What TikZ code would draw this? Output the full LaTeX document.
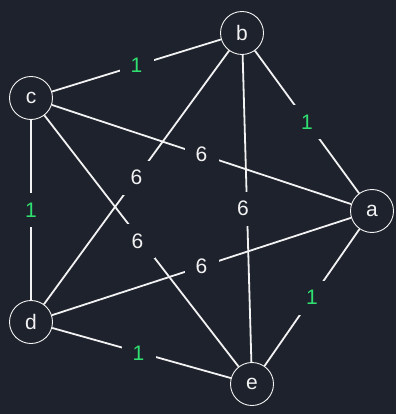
\documentclass[tikz,border=0pt]{standalone}
\usepackage{fontspec}
\setmainfont{Liberation Sans}
\usetikzlibrary{calc}
\definecolor{bg}{HTML}{1E222D}
\definecolor{edgecol}{HTML}{F2F2F2}
\definecolor{light}{HTML}{2FE070}

\begin{document}
\begin{tikzpicture}[
    x=1pt, y=-1pt,
    vertex/.style={circle, draw=edgecol, line width=0.9pt, fill=bg, text=edgecol, minimum size=43pt, inner sep=0pt, font=\fontsize{21}{25}\selectfont},
    link/.style={draw=edgecol, line width=1.8pt},
    wt/.style={fill=bg, inner sep=0pt, minimum size=34pt, font=\fontsize{21}{25}\selectfont},
    cheap/.style={wt, text=light},
    dear/.style={wt, text=edgecol}
]
\fill[bg] (0,0) rectangle (396,414);
\useasboundingbox (0,0) rectangle (396,414);

\node[vertex] (b) at (242,33) {b};
\node[vertex] (c) at (31,98) {c};
\node[vertex] (a) at (372,211) {a};
\node[vertex] (d) at (31,322) {d};
\node[vertex] (e) at (252,384) {e};

% weight 6 edges
\draw[link] (c) -- node[dear] {6} (a);
\draw[link] (c) -- node[dear, xshift=-4pt] {6} (e);
\draw[link] (b) -- node[dear] {6} (d);
\draw[link] (b) -- node[dear, xshift=-4pt] {6} (e);
\draw[link] (a) -- node[dear] {6} (d);

% weight 1 edges
\draw[link] (c) -- node[cheap] {1} (b);
\draw[link] (b) -- node[cheap] {1} (a);
\draw[link] (a) -- node[cheap] {1} (e);
\draw[link] (e) -- node[cheap, xshift=-3pt] {1} (d);
\draw[link] (d) -- node[cheap] {1} (c);
\end{tikzpicture}
\end{document}
